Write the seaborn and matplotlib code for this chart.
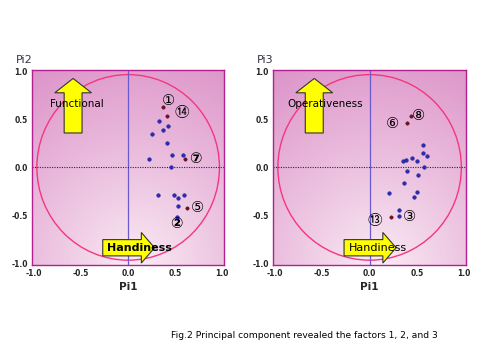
import numpy as np
import pandas as pd
import matplotlib
matplotlib.use("Agg")
import matplotlib.pyplot as plt
import seaborn as sns
from matplotlib.patches import Circle

# Left panel: Pi1 vs Pi2
pi1_a = [0.33, 0.42, 0.37, 0.25, 0.41, 0.47, 0.58, 0.22, 0.45, 0.32, 0.49, 0.53, 0.59, 0.53, 0.52]
pi2_a = [0.49, 0.43, 0.39, 0.35, 0.26, 0.13, 0.13, 0.09, 0.00, -0.29, -0.29, -0.32, -0.29, -0.40, -0.52]
mark_x_a = [0.37, 0.41, 0.60, 0.63]
mark_y_a = [0.63, 0.54, 0.09, -0.42]
lab_a = ["①", "⑭", "⑦", "⑤", "②"]
lab_x_a = [0.43, 0.57, 0.71, 0.74, 0.51]
lab_y_a = [0.70, 0.57, 0.09, -0.42, -0.59]
lab_bold_a = [False, False, True, False, True]

# Right panel: Pi1 vs Pi3
pi1_b = [0.56, 0.56, 0.61, 0.45, 0.50, 0.35, 0.38, 0.58, 0.40, 0.51, 0.36, 0.20, 0.50, 0.47, 0.31, 0.31]
pi3_b = [0.23, 0.15, 0.12, 0.10, 0.07, 0.07, 0.08, 0.00, -0.04, -0.08, -0.16, -0.27, -0.26, -0.31, -0.45, -0.51]
mark_x_b = [0.44, 0.40, 0.23]
mark_y_b = [0.54, 0.46, -0.52]
lab_b = ["⑧", "⑥", "⑬", "③"]
lab_x_b = [0.52, 0.24, 0.05, 0.42]
lab_y_b = [0.54, 0.46, -0.55, -0.51]
lab_bold_b = [False, False, False, False]

ticks = [-1.0, -0.5, 0.0, 0.5, 1.0]
tick_labels = ["-1.0", "-0.5", "0.0", "0.5", "1.0"]

sns.set_style("white")
plt.rcParams['font.family'] = ['DejaVu Sans', 'Noto Sans CJK JP']

fig = plt.figure(figsize=(4.8, 3.6), dpi=100)
ax1 = fig.add_axes([0.067, 0.264, 0.400, 0.542])
ax2 = fig.add_axes([0.569, 0.264, 0.402, 0.542])

lim = 1.02
dark = np.array([220, 146, 200]) / 255
light = np.array([251, 238, 246]) / 255
gx, gy = np.meshgrid(np.linspace(-lim, lim, 200), np.linspace(-lim, lim, 200))
dist = np.sqrt((gx - 0.1) ** 2 + ((gy + 1.05) * 0.95) ** 2) / 2.3
dist = np.clip(dist, 0, 1) ** 0.9
grad = light[None, None, :] * (1 - dist[..., None]) + dark[None, None, :] * dist[..., None]


def panel(ax, xs, ys, mx, my, labs, lx, ly, lbold, ylab, up_text, hand_bold):
    ax.imshow(grad, extent=[-lim, lim, -lim, lim], origin="lower", zorder=0, aspect="auto")
    ax.set_xlim(-lim, lim)
    ax.set_ylim(-lim, lim)
    ax.add_patch(Circle((0, 0), 0.97, fill=False, ec="#f5367f", lw=1.0, zorder=1))
    ax.axvline(0, color="#6a5acd", lw=0.9, zorder=1)
    ax.axhline(0, color="#222266", lw=0.8, ls=(0, (1, 1.2)), zorder=1)

    ax.arrow(-0.585, 0.36, 0, 0.57, width=0.19, head_width=0.39, head_length=0.15,
             length_includes_head=True, fc="#ffff00", ec="#333333", lw=0.8, zorder=2)
    ax.arrow(-0.27, -0.84, 0.55, 0, width=0.17, head_width=0.32, head_length=0.14,
             length_includes_head=True, fc="#ffff00", ec="#333333", lw=0.8, zorder=2)
    ax.text(-0.87 if up_text == "Operativeness" else -0.83, 0.66, up_text, fontsize=7.5,
            va="center", ha="left", color="black", zorder=3)
    ax.text(-0.22, -0.84, "Handiness", fontsize=8, va="center", ha="left",
            fontweight="bold" if hand_bold else "normal", color="black", zorder=3)

    df = pd.DataFrame({"x": xs, "y": ys})
    sns.scatterplot(data=df, x="x", y="y", ax=ax, color="#2b2bb8", s=7,
                    edgecolor="#1a1a80", linewidth=0.3, zorder=4)
    dm = pd.DataFrame({"x": mx, "y": my})
    sns.scatterplot(data=dm, x="x", y="y", ax=ax, color="#7a1020", s=6,
                    edgecolor="#400010", linewidth=0.3, zorder=4)
    for t, x, y, b in zip(labs, lx, ly, lbold):
        ax.text(x, y, t, fontsize=10.5, ha="center", va="center", color="black",
                fontweight="bold" if b else "normal", zorder=5)

    ax.set_xticks(ticks)
    ax.set_xticklabels(tick_labels)
    ax.set_yticks(ticks)
    ax.set_yticklabels(tick_labels)
    ax.tick_params(length=0, labelsize=5.5, pad=3)
    for lbl in ax.get_xticklabels() + ax.get_yticklabels():
        lbl.set_fontweight("bold")
    ax.set_xlabel("Pi1", fontsize=7.5, fontweight="bold", labelpad=3)
    ax.set_ylabel("")
    ax.text(-0.0, 1.025, ylab, transform=ax.transAxes, fontsize=8, color="#333344",
            ha="right", va="bottom")
    for sp in ax.spines.values():
        sp.set_color("#b0208f")
        sp.set_linewidth(1.0)
        sp.set_visible(True)


panel(ax1, pi1_a, pi2_a, mark_x_a, mark_y_a, lab_a, lab_x_a, lab_y_a, lab_bold_a,
      "Pi2", "Functional", True)
panel(ax2, pi1_b, pi3_b, mark_x_b, mark_y_b, lab_b, lab_x_b, lab_y_b, lab_bold_b,
      "Pi3", "Operativeness", False)

fig.text(0.357, 0.069, "Fig.2 Principal component revealed the factors 1, 2, and 3",
         fontsize=6.6, color="black", ha="left", va="center")

fig.savefig("out.png", dpi=100)
